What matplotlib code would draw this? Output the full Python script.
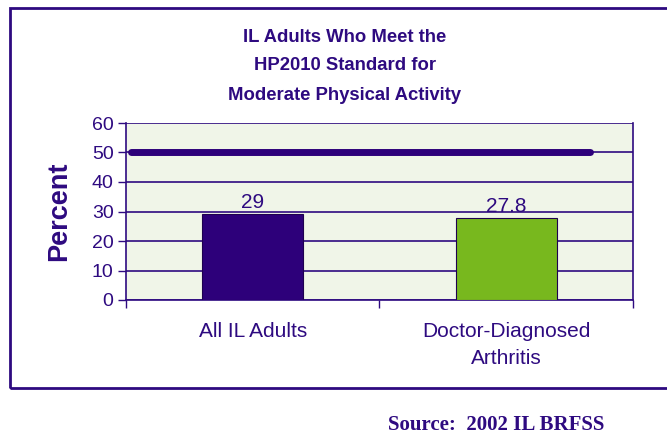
import matplotlib
matplotlib.use('Agg')
import matplotlib.pyplot as plt
import matplotlib.patches as mpatches

categories = ['All IL Adults', 'Doctor-Diagnosed\nArthritis']
percent = [29, 27.8]
value_labels = ['29', '27.8']
target = 50
yticks = [0, 10, 20, 30, 40, 50, 60]

PURPLE = '#2E0A80'
BAR_COLORS = ['#2D007A', '#78B81E']
SANS = 'Liberation Sans'

fig = plt.figure(figsize=(6.67, 4.36), dpi=100)
ax = fig.add_axes([126 / 667, 1 - 300 / 436, 507 / 667, 177 / 436])
ax.set_facecolor('#F0F5E8')

x = list(range(len(categories)))
ax.bar(x, percent, width=0.4, color=BAR_COLORS, edgecolor='#1E0050', linewidth=0.8, zorder=3)
for xi, v, lab in zip(x, percent, value_labels):
    ax.text(xi, v + 0.8, lab, ha='center', va='bottom', fontsize=15, color=PURPLE, family=SANS)

# HP2010 target line
ax.plot([-0.48, 1.33], [target, target], color='#2D007A', lw=5, solid_capstyle='round', zorder=4)

ax.set_xlim(-0.5, len(categories) - 0.5)
ax.set_ylim(0, 60)
ax.set_yticks(yticks)
ax.set_yticklabels([str(t) for t in yticks], fontsize=14, color=PURPLE, family=SANS)
ax.yaxis.grid(True, color=PURPLE, lw=1.2, zorder=1)
ax.set_axisbelow(True)

# category ticks at boundaries, labels at centers
ax.set_xticks([-0.5, 0.5, 1.5])
ax.set_xticklabels([])
ax.set_xticks(x, minor=True)
ax.set_xticklabels(categories, minor=True, fontsize=15, color=PURPLE, family=SANS, linespacing=1.5)
ax.tick_params(axis='x', which='minor', length=0, pad=16)
ax.tick_params(axis='x', which='major', length=6, color=PURPLE, width=1)
ax.tick_params(axis='y', length=6, color=PURPLE, width=1, pad=3)

for side in ['left', 'bottom', 'right']:
    ax.spines[side].set_color(PURPLE)
    ax.spines[side].set_linewidth(1.2)
ax.spines['top'].set_visible(False)

ax.set_ylabel('Percent', fontsize=19.5, fontweight='bold', color=PURPLE, family=SANS, labelpad=14)

title_lines = ['IL Adults Who Meet the', 'HP2010 Standard for', 'Moderate Physical Activity']
for i, line in enumerate(title_lines):
    fig.text(345 / 667, 1 - (37 + 29 * i) / 436, line, ha='center', va='center',
             fontsize=13.3, fontweight='bold', color=PURPLE, family=SANS)

fig.text(496 / 667, 1 - 425 / 436, 'Source:  2002 IL BRFSS', ha='center', va='center',
         fontsize=15, fontweight='bold', color=PURPLE, family='Liberation Serif')

# outer frame (right edge runs off the picture)
frame = mpatches.Rectangle((10 / 667, 1 - 388 / 436), 700 / 667, 380 / 436,
                           transform=fig.transFigure, fill=False, edgecolor=PURPLE, lw=2)
fig.patches.append(frame)

fig.savefig('out.png', dpi=100)
